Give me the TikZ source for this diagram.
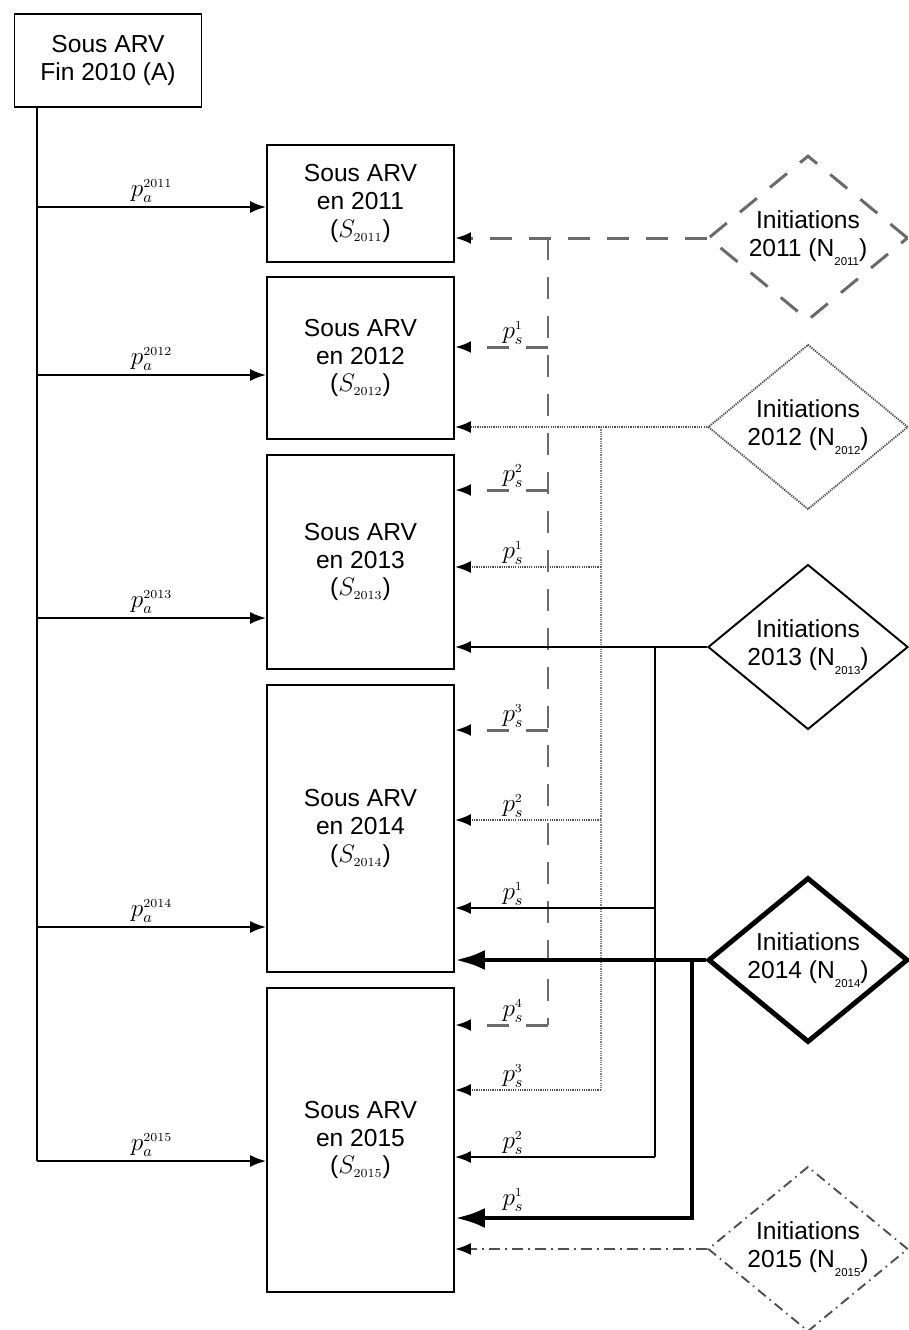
\documentclass[tikz,border=0pt]{standalone}
\usepackage{fontspec}
\setmainfont{Liberation Sans}
\usepackage{amsmath}
\usetikzlibrary{arrows.meta,shapes.geometric}
\definecolor{dashgray}{HTML}{6A6A6A}
\definecolor{dotgray}{HTML}{505050}
\newcommand{\yrsub}[1]{\raisebox{-0.7ex}{\fontsize{6.5}{7}\selectfont #1}}

\begin{document}
\begin{tikzpicture}[x=0.02cm, y=-0.02cm, line width=1.1pt,
  txt/.style={font=\fontsize{14}{15.8}\selectfont, align=center},
  stock/.style={txt, draw, minimum width=3.74cm, inner sep=0pt},
  init/.style={txt, diamond, draw, minimum width=4cm, minimum height=3.3cm, inner sep=-3pt},
  tip/.style={-{Latex[length=0.32cm, width=0.24cm, black]}},
  bigtip/.style={-{Latex[length=0.6cm, width=0.4cm]}},
  dashflow/.style={dashgray, line width=1.7pt, dash pattern=on 0.44cm off 0.34cm},
  dotflow/.style={dotgray, line width=1.1pt, dash pattern=on 0.7pt off 0.6pt},
  dashdotflow/.style={dotgray, line width=1.1pt, dash pattern=on 0.22cm off 0.1cm on 0.04cm off 0.1cm},
  thickflow/.style={line width=2.8pt},
  lab/.style={font=\fontsize{13.5}{15}\selectfont, inner sep=1pt}]
  \useasboundingbox (0,0) rectangle (909,1330);

  % stocks
  \node[stock, minimum height=1.86cm] (A) at (108,60.5) {Sous ARV\\Fin 2010 (A)};
  \foreach \yr/\yc/\h in {2011/203.5/117, 2012/358/162, 2013/562/214, 2014/828.5/287, 2015/1140/304}{
    \node[stock, minimum height=\h*0.02cm] (S\yr) at (360.5,\yc)
      {Sous ARV\\en \yr\\($S_{\scriptscriptstyle\yr}$)};}

  % initiations
  \node[init, draw=dashgray, line width=1.7pt, dash pattern=on 0.44cm off 0.34cm] (N2011) at (808,238)
    {Initiations\\2011 (N\yrsub{2011})};
  \node[init, draw=dotgray, dash pattern=on 0.7pt off 0.6pt] (N2012) at (808,427)
    {Initiations\\2012 (N\yrsub{2012})};
  \node[init] (N2013) at (808,647) {Initiations\\2013 (N\yrsub{2013})};
  \node[init, line width=2.8pt] (N2014) at (808,960) {Initiations\\2014 (N\yrsub{2014})};
  \node[init, draw=dotgray, dash pattern=on 0.2cm off 0.1cm on 0.03cm off 0.1cm] (N2015) at (808,1249)
    {Initiations\\2015 (N\yrsub{2015})};

  % ARV stock of end 2010
  \coordinate (trunk) at (37,1161);
  \draw (A.south -| trunk) -- (trunk);
  \foreach \yr/\yy in {2011/207, 2012/375, 2013/618, 2014/927, 2015/1161}{
    \coordinate (a\yr) at (37,\yy);
    \draw[tip] (a\yr) -- (a\yr -| S\yr.west)
      node[lab, midway, above=1pt] (pa\yr) {$p_a^{\scriptscriptstyle\yr}$};}

  % 2011 cohort
  \coordinate (d0) at (N2011.west -| 548,0);
  \coordinate (d4) at (548,1025);
  \draw[dashflow, tip] (N2011.west) -- (N2011.west -| S2011.east);
  \draw[dashflow] (d0) -- (d4);
  \foreach \k/\yy/\to in {1/347/2012, 2/490/2013, 3/730/2014, 4/1025/2015}{
    \coordinate (d\k) at (548,\yy);
    \draw[dashflow, tip] (d\k) -- (d\k -| S\to.east);
    \node[lab] (psd\k) at (513,\yy-14) {$p_s^{\scriptscriptstyle\k}$};}

  % 2012 cohort
  \coordinate (o0) at (N2012.west -| 601,0);
  \coordinate (o3) at (601,1090);
  \draw[dotflow, tip] (N2012.west) -- (N2012.west -| S2012.east);
  \draw[dotflow, gray] (o0) -- (o3);
  \foreach \k/\yy/\to in {1/567/2013, 2/820/2014, 3/1090/2015}{
    \coordinate (o\k) at (601,\yy);
    \draw[dotflow, tip] (o\k) -- (o\k -| S\to.east);
    \node[lab] (pso\k) at (513,\yy-14) {$p_s^{\scriptscriptstyle\k}$};}

  % 2013 cohort
  \coordinate (t0) at (N2013.west -| 655,0);
  \coordinate (t2) at (655,1157);
  \draw[tip] (N2013.west) -- (N2013.west -| S2013.east);
  \draw (t0) -- (t2);
  \foreach \k/\yy/\to in {1/908/2014, 2/1157/2015}{
    \coordinate (t\k) at (655,\yy);
    \draw[tip] (t\k) -- (t\k -| S\to.east);
    \node[lab] (pst\k) at (513,\yy-14) {$p_s^{\scriptscriptstyle\k}$};}

  % 2014 cohort
  \coordinate (f0) at (N2014.west -| 692,0);
  \coordinate (f1) at (692,1218);
  \draw[thickflow, bigtip] (N2014.west) -- (N2014.west -| S2014.east);
  \draw[thickflow, bigtip] (f0) -- (f1) -- (f1 -| S2015.east);
  \node[lab] (psf1) at (513,1200) {$p_s^{\scriptscriptstyle1}$};

  % 2015 cohort
  \draw[dashdotflow, tip] (N2015.west) -- (N2015.west -| S2015.east);
\end{tikzpicture}
\end{document}
